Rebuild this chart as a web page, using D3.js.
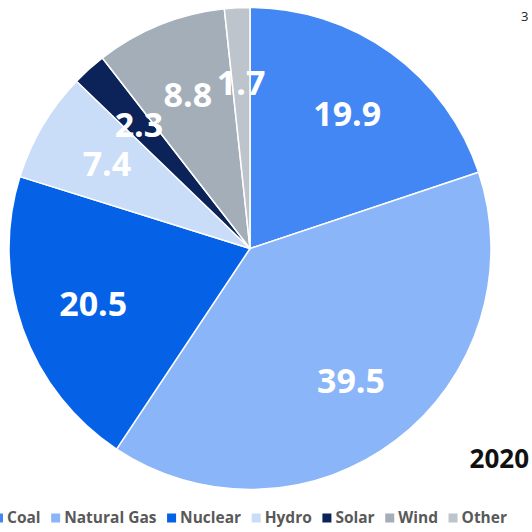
<!DOCTYPE html>
<html>
<head>
<meta charset="utf-8">
<script src="https://cdn.jsdelivr.net/npm/d3@7"></script>
<style>
    html, body { margin: 0; padding: 0; background: #fff; }
    svg { display: block; }
</style>
</head>
<body>
<div id="chart"></div>
<script>
    'use strict';

    var categories = ['Coal', 'Natural Gas', 'Nuclear', 'Hydro', 'Solar', 'Wind', 'Other'];
    var shares = [19.9, 39.5, 20.5, 7.4, 2.3, 8.8, 1.7];
    var colors = ['#4287f3', '#8ab5f8', '#0561e6', '#c9dcf8', '#0b2358', '#a4aeb8', '#bec4cb'];
    var yearLabel = '2020';

    var width = 532, height = 532;
    var cx = 250, cy = 248.5, radius = 241;
    var font = '"Open Sans", "DejaVu Sans", sans-serif';

    var svg = d3.select('#chart')
        .append('svg')
        .attr('width', width)
        .attr('height', height)
        .attr('viewBox', '0 0 ' + width + ' ' + height);

    var data = categories.map(function(c, i) {
        return { name: c, value: shares[i], color: colors[i] };
    });

    var pie = d3.pie()
        .sort(null)
        .value(function(d) { return d.value; });

    var arc = d3.arc()
        .innerRadius(0)
        .outerRadius(radius);

    var labelArc = d3.arc()
        .innerRadius(radius * 0.69)
        .outerRadius(radius * 0.69);

    var g = svg.append('g')
        .attr('transform', 'translate(' + cx + ',' + cy + ')');

    var arcs = pie(data);

    g.selectAll('path.slice')
        .data(arcs)
        .enter()
        .append('path')
        .attr('class', 'slice')
        .attr('d', arc)
        .attr('fill', function(d) { return d.data.color; })
        .attr('stroke', '#ffffff')
        .attr('stroke-width', 1.5)
        .attr('stroke-linejoin', 'round');

    g.selectAll('text.value')
        .data(arcs)
        .enter()
        .append('text')
        .attr('class', 'value')
        .attr('transform', function(d) {
            var p = labelArc.centroid(d);
            return 'translate(' + p[0] + ',' + p[1] + ')';
        })
        .attr('text-anchor', 'middle')
        .attr('dy', '0.36em')
        .attr('font-family', font)
        .attr('font-weight', 'bold')
        .attr('font-size', 34)
        .attr('fill', '#ffffff')
        .text(function(d) { return d3.format('.1f')(d.data.value); });

    // year label, bottom right
    svg.append('text')
        .attr('x', 529)
        .attr('y', 468)
        .attr('text-anchor', 'end')
        .attr('font-family', font)
        .attr('font-weight', 'bold')
        .attr('font-size', 26)
        .attr('fill', '#111111')
        .text(yearLabel);

    // cut off text fragment at top right
    svg.append('text')
        .attr('x', 521)
        .attr('y', 21)
        .attr('font-family', font)
        .attr('font-size', 13)
        .attr('fill', '#222222')
        .text('3');

    // legend: spread between the left edge and x = 507
    var legend = svg.append('g')
        .attr('class', 'legend')
        .attr('transform', 'translate(0,518)');

    var items = legend.selectAll('g.item')
        .data(data)
        .enter()
        .append('g')
        .attr('class', 'item');

    items.append('rect')
        .attr('y', -4.5)
        .attr('width', 9)
        .attr('height', 9)
        .attr('fill', function(d) { return d.color; });

    items.append('text')
        .attr('dy', '0.35em')
        .attr('font-family', font)
        .attr('font-weight', 'bold')
        .attr('font-size', 15.5)
        .attr('fill', '#595959')
        .text(function(d) { return d.name; });

    var lengths = [];
    items.select('text').each(function() { lengths.push(this.getComputedTextLength()); });
    var startX = 7, endX = 507, markGap = 13;
    var total = d3.sum(lengths) + markGap * (data.length - 1);
    var gap = (endX - startX - total) / (data.length - 1);

    var x = startX;
    items.each(function(d, i) {
        var item = d3.select(this);
        item.select('text').attr('x', x);
        item.select('rect').attr('x', x - markGap);
        x += lengths[i] + gap + markGap;
    });
</script>
</body>
</html>
